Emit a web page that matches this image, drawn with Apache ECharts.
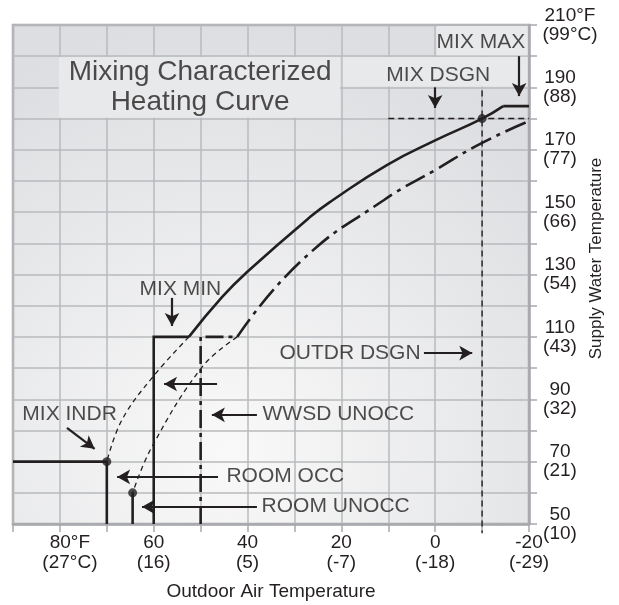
<!DOCTYPE html>
<html><head><meta charset="utf-8">
<script src="https://cdn.jsdelivr.net/npm/echarts@6/dist/echarts.min.js"></script>
<style>html,body{margin:0;padding:0;background:#fff}#c{width:619px;height:605px}</style>
</head><body><div id="c"></div>
<script>
// ---- tick labels ----
const xTicksF = [80, 60, 40, 20, 0, -20];
const xTicksC = ['(27°C)', '(16)', '(5)', '(-7)', '(-18)', '(-29)'];
const yTicksF = [210, 190, 170, 150, 130, 110, 90, 70, 50];
const yTicksC = ['(99°C)', '(88)', '(77)', '(66)', '(54)', '(43)', '(32)', '(21)', '(10)'];

// ---- curves: [outdoor °F, supply water °F] ----
const mixMinStep = [[60, 50], [60, 110], [52.5, 110]];
const mixCurve = [[52.5, 110], [45.4, 122.8], [40.1, 130.8], [26.7, 148.4], [21.8, 153.9], [10.3, 165.1], [0, 173], [-10, 180], [-14.5, 184]];
const mixMaxFlat = [[-14.5, 184], [-20, 184]];
const unoccStep = [[50, 50], [50, 110], [42.2, 110]];
const unoccCurve = [[42.2, 110], [28.8, 134], [10.9, 153.9], [0, 163.5], [-10, 172.2], [-20, 179.2]];
const mixExt = [[52.5, 110], [60.4, 96.8], [66.8, 83.3], [70, 70]];
const unoccExt = [[42.2, 110], [49.7, 100.3], [60.4, 74.7], [64.5, 60]];
const indrLine = [[90, 70], [70, 70], [70, 50]];
const roomUnoccLine = [[64.5, 60], [64.5, 50]];
const dsgnH = [[10, 180], [-20, 180]];
const dsgnV = [[-10, 189], [-10, 47]];
const dots = [[-10, 180], [70, 70], [64.5, 60]];

// ---- annotation arrows [from, to] ----
const arrows = [
  [[-17.9, 200], [-17.9, 187.2]],
  [[0, 190], [0, 183.4]],
  [[56.1, 122.5], [56.1, 113.5]],
  [[2.4, 104.8], [-7.9, 104.8]],
  [[46.5, 94.9], [57.8, 94.9]],
  [[38, 85], [47.6, 85]],
  [[78.5, 80.8], [72.6, 74.1]],
  [[46.3, 65.1], [67.8, 65.1]],
  [[38, 55.5], [62.5, 55.5]]
];

// ---- annotation texts ----
const annoText = ['Mixing Characterized\nHeating Curve', 'MIX MAX', 'MIX DSGN', 'MIX MIN', 'OUTDR DSGN', 'WWSD UNOCC', 'MIX INDR', 'ROOM OCC', 'ROOM UNOCC'];
const annoAt = [[50, 190], [-0.4, 204.2], [10.3, 193.6], [62.9, 125.2], [3.0, 104.5], [36.7, 84.9], [87.9, 84.9], [44.4, 65.1], [36.9, 55.5]];

// ---- label boxes (areas covering the grid) ----
const boxes = [
  [[80.2, 199.7], [20.3, 180.3]],
  [[19.7, 199.7], [-19.7, 190.3]],
  [[-0.3, 209.7], [-19.7, 200.3]]
];

const FONT = '"Liberation Sans", Arial, Helvetica, sans-serif';
const INK = '#231f20';
const GRIDC = '#a7a9ac';

function ln(data, extra) {
  return Object.assign({
    type: 'line', data: data, symbol: 'none', animation: false, silent: true, z: 3,
    lineStyle: { color: INK, width: 2.6, join: 'miter', cap: 'butt' }
  }, extra || {});
}

const annoAlign = ['center', 'left', 'left', 'left', 'right', 'left', 'left', 'left', 'left'];

const chart = echarts.init(document.getElementById('c'), null, { renderer: 'canvas' });
chart.setOption({
  animation: false,
  textStyle: { fontFamily: FONT, color: INK },
  grid: {
    left: 13, right: 90, top: 25, bottom: 81, show: true,
    outerBoundsMode: 'none', containLabel: false,
    borderColor: GRIDC, borderWidth: 2.5,
    backgroundColor: {
      type: 'radial', x: 0.42, y: 0.85, r: 0.85,
      colorStops: [{ offset: 0, color: '#f9f9f9' }, { offset: 1, color: '#dddee1' }]
    }
  },
  xAxis: {
    type: 'value', min: -20, max: 90, interval: 10, inverse: true, position: 'bottom',
    axisLine: { show: true, onZero: false, lineStyle: { color: GRIDC, width: 2.5 } },
    axisTick: { show: true, length: 8, lineStyle: { color: GRIDC, width: 1.5 } },
    splitLine: { show: true, lineStyle: { color: '#b8babd', width: 1.5 } },
    axisLabel: {
      margin: 9, color: INK, fontSize: 19, fontFamily: FONT, lineHeight: 20,
      formatter: function (v) {
        const i = xTicksF.indexOf(v);
        if (i < 0) return '';
        if (i === 0) return '{p| }' + v + '°F\n{p| }' + xTicksC[i];
        return v + '\n' + xTicksC[i];
      },
      rich: { p: { width: 20 } }
    },
    name: 'Outdoor Air Temperature', nameLocation: 'middle', nameGap: 58,
    nameTextStyle: { fontSize: 19, color: INK, fontFamily: FONT }
  },
  yAxis: {
    type: 'value', min: 50, max: 210, interval: 10, position: 'right',
    axisLine: { show: true, onZero: false, lineStyle: { color: GRIDC, width: 2.5 } },
    axisTick: { show: true, length: 8, lineStyle: { color: GRIDC, width: 1.5 } },
    splitLine: { show: true, lineStyle: { color: '#b8babd', width: 1.5 } },
    axisLabel: {
      margin: 13, color: INK, fontSize: 19, fontFamily: FONT, lineHeight: 19, align: 'left',
      formatter: function (v) {
        const i = yTicksF.indexOf(v);
        if (i < 0) return '';
        if (i === 0) return '{w|' + v + '°F}\n{w|' + yTicksC[i] + '}';
        return '{c|' + v + '}\n{c|' + yTicksC[i] + '}';
      },
      rich: {
        c: { width: 36, align: 'center', fontSize: 19, lineHeight: 19, fontFamily: FONT, color: INK },
        w: { width: 56, align: 'center', fontSize: 19, lineHeight: 19, fontFamily: FONT, color: INK }
      }
    },
    name: 'Supply Water Temperature', nameLocation: 'middle', nameGap: 59, nameRotate: 90,
    nameMoveOverlap: false,
    nameTextStyle: { fontSize: 17, color: INK, fontFamily: FONT, padding: [0, 0, 0, 32] }
  },
  series: [
    {
      type: 'line', data: [], z: 1, silent: true,
      markArea: {
        silent: true, itemStyle: { color: '#e8e9ea' },
        data: boxes.map(function (b) { return [{ coord: b[0] }, { coord: b[1] }]; })
      }
    },
    ln(mixExt, { smooth: 0.4, lineStyle: { color: INK, width: 1.3, type: [5, 4] } }),
    ln(unoccExt, { smooth: 0.4, lineStyle: { color: INK, width: 1.3, type: [5, 4] } }),
    ln(dsgnH, { lineStyle: { color: INK, width: 1.4, type: [6, 4] } }),
    ln(dsgnV, { clip: false, lineStyle: { color: INK, width: 1.4, type: [6, 4] } }),
    ln(mixMinStep),
    ln(mixCurve, { smooth: 0.5 }),
    ln(mixMaxFlat),
    ln(unoccStep, { lineStyle: { color: INK, width: 2.6, type: [18, 5, 4, 5], join: 'miter' } }),
    ln(unoccCurve, { smooth: 0.5, lineStyle: { color: INK, width: 2.6, type: [22, 6, 4, 6] } }),
    ln(indrLine),
    ln(roomUnoccLine),
    {
      type: 'scatter', data: dots, symbol: 'circle', symbolSize: 9, z: 6, silent: true,
      itemStyle: { color: INK },
      markLine: {
        silent: true, animation: false, symbol: ['none', 'arrow'], symbolSize: [11, 13],
        lineStyle: { color: INK, width: 2.2, type: 'solid' },
        label: { show: false },
        data: arrows.map(function (a) { return [{ coord: a[0] }, { coord: a[1] }]; })
      }
    },
    {
      type: 'scatter', z: 7, silent: true, symbolSize: 1,
      itemStyle: { color: 'rgba(0,0,0,0)' },
      data: annoText.map(function (t, i) {
        const title = i === 0;
        return {
          value: annoAt[i], name: t,
          label: {
            show: true, position: [0, 0], formatter: '{b}',
            align: annoAlign[i], verticalAlign: 'middle',
            fontSize: title ? 28 : 21, lineHeight: title ? 30 : 22,
            color: INK, fontFamily: FONT
          }
        };
      })
    }
  ]
});
</script></body></html>
